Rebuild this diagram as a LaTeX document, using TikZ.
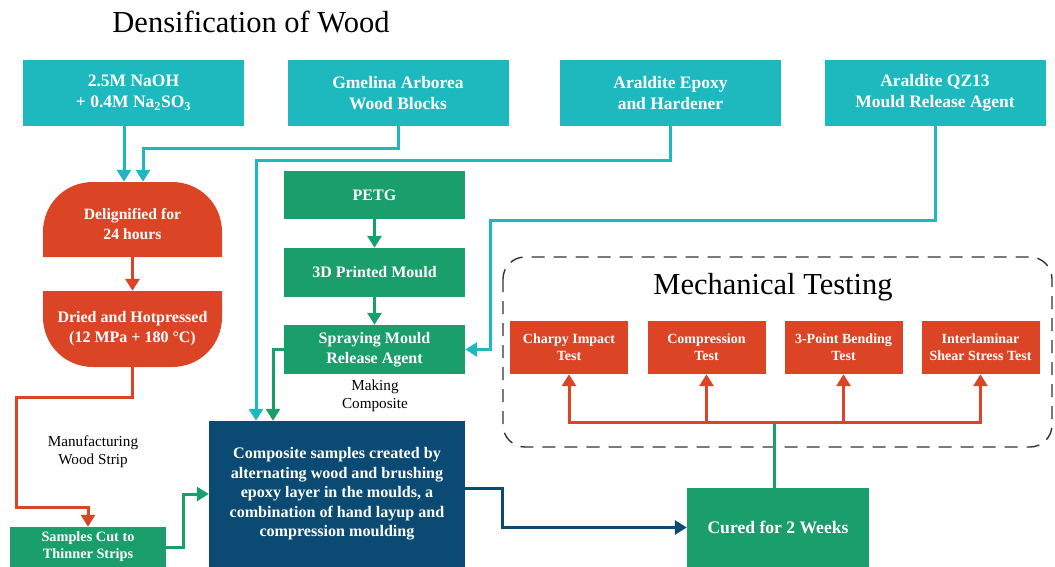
\documentclass[tikz,border=0pt]{standalone}
\usepackage{fontspec}
\setmainfont{Liberation Serif}
\usetikzlibrary{arrows.meta,calc}
\definecolor{cteal}{HTML}{1DB9BF}
\definecolor{cred}{HTML}{DC4426}
\definecolor{cgreen}{HTML}{199E6C}
\definecolor{cnavy}{HTML}{0B4B73}
\definecolor{cdash}{HTML}{333333}
\tikzset{
  box/.style={inner sep=0pt, align=center, text=white, font=\bfseries\fontsize{17.5}{21}\selectfont},
  tealbox/.style={box, fill=cteal, minimum width=221pt, minimum height=66pt},
  greenbox/.style={box, fill=cgreen, minimum width=181pt, minimum height=49pt, font=\bfseries\fontsize{16}{20}\selectfont},
  testbox/.style={box, fill=cred, minimum width=118pt, minimum height=53pt, font=\bfseries\fontsize{14}{17}\selectfont},
  conn/.style={line width=3pt, -{Triangle[width=14pt,length=12pt]}},
  tealarr/.style={conn, draw=cteal},
  redarr/.style={conn, draw=cred},
  greenarr/.style={conn, draw=cgreen},
  navyarr/.style={conn, draw=cnavy},
  plainlbl/.style={align=center, font=\fontsize{15.2}{18.5}\selectfont, text=black},
  bigtitle/.style={font=\fontsize{30.5}{36}\selectfont, text=black},
}
\begin{document}
\begin{tikzpicture}[x=1pt,y=-1pt]
\useasboundingbox (0,0) rectangle (1055,567);
% titles
\node[bigtitle] (title) at (251,22) {Densification of Wood};
% dashed group
\draw[cdash, line width=1.4pt, dash pattern=on 13pt off 9pt, rounded corners=22pt] (503,257) rectangle (1052,447);
\node[bigtitle] (mechtitle) at (773,287) {Mechanical Testing};
% top row
\node[tealbox] (naoh) at (133.5,93) {2.5M NaOH\\+ 0.4M Na\textsubscript{2}SO\textsubscript{3}};
\node[tealbox] (gmel) at (398,93) {Gmelina Arborea\\Wood Blocks};
\node[tealbox] (epoxy) at (670.5,93) {Araldite Epoxy\\and Hardener};
\node[tealbox] (qz) at (935,93) {Araldite QZ13\\Mould Release Agent};
% dome shapes
\fill[cred] (43,257) -- (43,232) .. controls (43,204) and (65,182) .. (93,182) -- (172,182) .. controls (200,182) and (222,204) .. (222,232) -- (222,257) -- cycle;
\node[box, minimum width=179pt, minimum height=75pt, label={[box, font=\bfseries\fontsize{15.7}{20}\selectfont, yshift=-5pt]center:Delignified for\\24 hours}] (delig) at (132.5,219.5) {};
\fill[cred] (43,291) -- (222,291) -- (222,317) .. controls (222,345) and (200,367) .. (172,367) -- (93,367) .. controls (65,367) and (43,345) .. (43,317) -- cycle;
\node[box, minimum width=179pt, minimum height=76pt, label={[box, font=\bfseries\fontsize{16}{20}\selectfont, yshift=0pt]center:Dried and Hotpressed\\(12 MPa + 180 °C)}] (dried) at (132.5,329) {};
% green column
\node[greenbox, minimum height=48pt] (petg) at (374.5,195) {PETG};
\node[greenbox] (mould) at (374.5,272.5) {3D Printed Mould};
\node[greenbox] (spray) at (374.5,349.5) {Spraying Mould\\Release Agent};
\node[plainlbl] (making) at (375,396) {Making\\Composite};
\node[plainlbl] (manuf) at (93,452) {Manufacturing\\Wood Strip};
% bottom
\node[box, fill=cnavy, minimum width=256pt, minimum height=146pt, font=\bfseries\fontsize{16.1}{19.5}\selectfont] (comp) at (337,494) {Composite samples created by\\alternating wood and brushing\\epoxy layer in the moulds, a\\combination of hand layup and\\compression moulding};
\node[box, fill=cgreen, minimum width=156pt, minimum height=40pt, font=\bfseries\fontsize{14.3}{17}\selectfont] (samples) at (88,547) {Samples Cut to\\Thinner Strips};
\node[box, fill=cgreen, minimum width=182pt, minimum height=79pt, font=\bfseries\fontsize{17.6}{21}\selectfont] (cured) at (778,527.5) {Cured for 2 Weeks};
% tests
\node[testbox] (charpy) at (569,347.5) {Charpy Impact\\Test};
\node[testbox] (compr) at (706.5,347.5) {Compression\\Test};
\node[testbox] (bend) at (843.5,347.5) {3-Point Bending\\Test};
\node[testbox] (inter) at (980.5,347.5) {Interlaminar\\Shear Stress Test};
% connectors
\draw[tealarr] ([xshift=-9.5pt]naoh.south) -- ([xshift=-9.5pt]naoh.south |- delig.north);
\draw[tealarr] (gmel.south) -- ($(gmel.south)+(0,22)$) -| ([xshift=10.5pt]delig.north);
\draw[tealarr] (epoxy.south) -- ($(epoxy.south)+(0,34)$) -| ([xshift=-81pt]comp.north);
\draw[tealarr] (qz.south) -- ($(qz.south)+(0,94)$) -| ($(spray.east)+(25,0)$) -- (spray.east);
\draw[greenarr] (petg.south) -- (mould.north);
\draw[greenarr] (mould.south) -- (spray.north);
\draw[greenarr] (spray.west) -| ([xshift=-64pt]comp.north);
\draw[redarr] (delig.south) -- (dried.north);
\draw[redarr] (dried.south) -- ($(dried.south)+(0,30)$) -- ($(dried.south)+(-116.5,30)$) |- ($(samples.north)+(0,-19)$) -- (samples.north);
\draw[greenarr] (samples.east) -- ($(samples.east)+(17,0)$) |- (comp.west);
\draw[navyarr] ($(comp.east)+(0,-6)$) -- ($(comp.east)+(37,-6)$) |- (cured.west);
\coordinate (hub) at ($(cured.north)+(-4,-65)$);
\draw[cgreen, line width=3pt] ([xshift=-4pt]cured.north) -- (hub);
\draw[redarr] (hub) -| (charpy.south);
\draw[redarr] (hub) -| (compr.south);
\draw[redarr] (hub) -| (bend.south);
\draw[redarr] (hub) -| (inter.south);
\end{tikzpicture}
\end{document}
